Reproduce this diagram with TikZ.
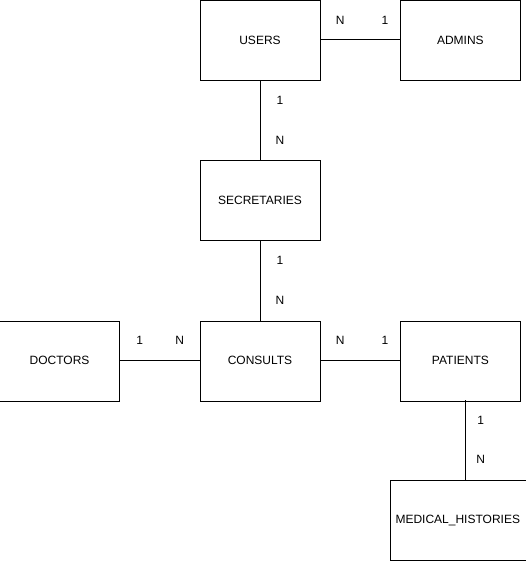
\documentclass[tikz,border=0pt]{standalone}
\usepackage{fontspec}
\setmainfont{Liberation Sans}
\usetikzlibrary{positioning}

\begin{document}
\begin{tikzpicture}[
  x=1pt, y=1pt,
  node distance=80pt and 80pt,
  ent/.style={draw, minimum width=120pt, minimum height=80pt, inner sep=0pt, font=\fontsize{12}{14}\selectfont},
  card/.style={inner sep=0pt, font=\fontsize{12}{14}\selectfont},
  rel/.style={line width=1pt},
]
  \useasboundingbox (0,0) rectangle (526,-561);

  % Entities
  \node[ent] (users) at (260,-40) {USERS};
  \node[ent, right=of users] (admins) {ADMINS};
  \node[ent, below=of users] (secr) {SECRETARIES};
  \node[ent, below=of secr] (consults) {CONSULTS};
  \node[ent, left=of consults] (doctors) {DOCTORS};
  \node[ent, right=of consults] (patients) {PATIENTS};
  \node[ent, minimum width=136pt] (medhist) at (457.8,-520) {MEDICAL\_HISTORIES};

  % Relations
  \draw[rel] (users) -- node[card, pos=.25, yshift=20pt] (usersN) {N}
    node[card, pos=.81, yshift=20pt] (admins1) {1} (admins);
  \draw[rel] (users) -- node[card, pos=.25, xshift=20pt] (users1) {1}
    node[card, pos=.75, xshift=20pt] (secrN) {N} (secr);
  \draw[rel] (secr) -- node[card, pos=.25, xshift=20pt] (secr1) {1}
    node[card, pos=.75, xshift=20pt] (consultsN) {N} (consults);
  \draw[rel] (doctors) -- node[card, pos=.25, yshift=20pt] (doctors1) {1}
    node[card, pos=.75, yshift=20pt] (consultsN2) {N} (consults);
  \draw[rel] (consults) -- node[card, pos=.25, yshift=20pt] (consultsN3) {N}
    node[card, pos=.81, yshift=20pt] (patients1) {1} (patients);
  \coordinate (pm) at (465.7,-400);
  \draw[rel] (pm) -- node[card, pos=.25, xshift=15pt] (patients2) {1}
    node[card, pos=.75, xshift=15pt] (medhistN) {N} (pm |- medhist.north);
\end{tikzpicture}
\end{document}
